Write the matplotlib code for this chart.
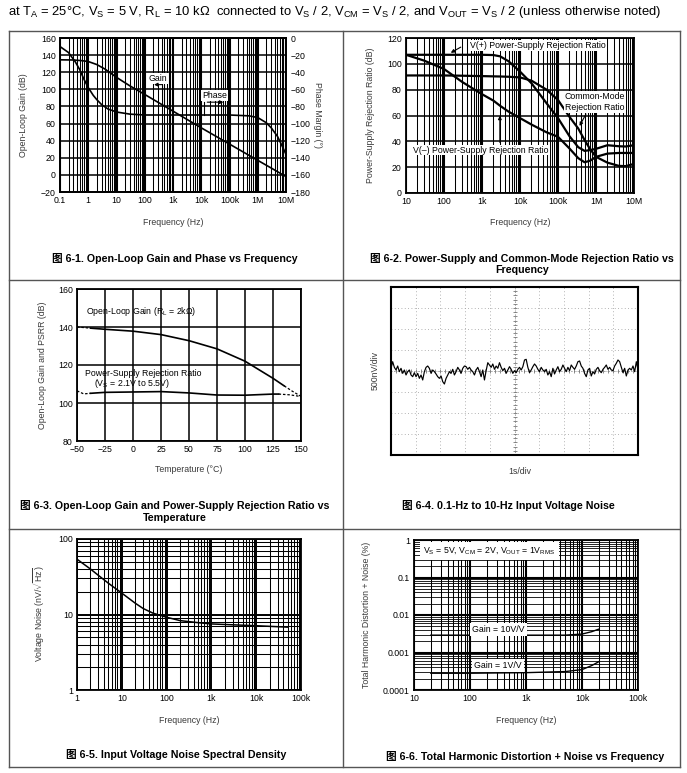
import numpy as np
import matplotlib
matplotlib.use("Agg")
import matplotlib.pyplot as plt
from matplotlib.lines import Line2D
from matplotlib.ticker import FixedLocator, LogLocator, NullFormatter

plt.rcParams['font.family'] = ['Liberation Sans', 'Noto Sans CJK SC', 'DejaVu Sans']
plt.rcParams['mathtext.fontset'] = 'custom'
plt.rcParams['mathtext.rm'] = 'Liberation Sans'
plt.rcParams['mathtext.it'] = 'Liberation Sans:italic'
plt.rcParams['mathtext.bf'] = 'Liberation Sans:bold'

# ---- 6-1 open-loop gain / phase
olg_freq = [0.1, 0.3, 0.6, 1, 2, 4, 10, 30, 100, 1e3, 1e4, 1e5, 1e6, 3e6, 1e7]
olg_gain = [134.5, 134.3, 133.5, 132.5, 129, 123.5, 114, 104, 94, 74.5, 55, 36, 17, 8, -2]
ph_freq = [0.1, 0.2, 0.35, 0.5, 0.7, 1, 1.5, 2, 3, 5, 10, 30, 100, 1e3, 1e4, 1e5, 5e5, 1e6, 2e6, 3e6, 5e6, 7e6, 1e7]
ph_deg = [-10, -17, -28, -37, -48, -58, -67, -72, -78, -83, -86.5, -89, -90, -90, -90, -90, -91, -93, -99, -105, -115, -125, -136]

# ---- 6-2 PSRR / CMRR
rr_freq = [10, 30, 100, 300, 1e3, 2e3, 3e3, 5e3, 1e4, 2e4, 5e4, 1e5, 2e5, 3.4e5, 5e5, 7e5, 1e6, 2e6, 4e6, 6e6, 1e7]
psrr_pos = [107, 107, 107, 107, 107, 106.8, 105.8, 102, 94, 85, 69.5, 58, 44, 35.5, 32.6, 33.2, 34.2, 37, 36.2, 36, 37]
psrr_neg = [107, 102.5, 96, 86, 76.5, 71.5, 67.5, 63, 58, 53, 47, 43.5, 34.5, 27, 23.8, 25, 28, 30.5, 31, 31, 31]
cmrr = [91, 91, 91, 90.8, 90.5, 90.3, 90.2, 90, 89.5, 87, 80, 72, 59, 50, 41, 34, 28, 23.5, 21, 20.8, 22.5]

# ---- 6-3 vs temperature (solid and dashed pieces)
olg_t_dash_l = [-50, -38]
olg_v_dash_l = [140, 139.4]
olg_t = [-38, -25, 0, 25, 50, 75, 100, 125, 135]
olg_v = [139.4, 138.8, 137.8, 136, 132.8, 128.5, 122, 113, 109]
olg_t_dash_r = [135, 142, 150]
olg_v_dash_r = [109, 106.3, 103.5]
psr_t_dash_l = [-50, -44, -38]
psr_v_dash_l = [106.4, 104.8, 105.1]
psr_t = [-38, -25, 0, 25, 50, 75, 100, 125, 130]
psr_v = [105.1, 105.6, 105.8, 106, 105.3, 104.2, 104.1, 104.7, 104.7]
psr_t_dash_r = [130, 140, 150]
psr_v_dash_r = [104.7, 104.3, 103.4]

# ---- 6-4 0.1-Hz to 10-Hz noise trace (nV), read across 10 s
noise_nv = [64, 222, 87, 24, 119, -16, 64, -56, 24, -95, -16, 24, -95, -135, -40, -135,
            -56, -175, -95, -214, -16, 87, 119, 64, -56, 24, -16, -71, -135, -175, -119,
            -254, -310, -175, -95, -16, -56, 40, -95, -16, 87, 24, -56, 64, 119, 103, 40,
            87, 24, -16, -95, 24, 87, -16, -135, 24, -214, 8, 198, 143, 87, 167, 40, 119,
            64, 198, 87, 8, 64, -56, 24, 103, 40, -56, 8, -40, 40, 87, 24, 103, 262, 278,
            87, -40, 24, 103, 167, 119, 40, -16, 87, 24, -16, 40, -95, -16, -135, 64, -71,
            24, 103, -16, 40, 143, 64, -16, 87, 8, 143, 87, 40, 119, 222, 238, 119, 64, -56,
            -135, 24, 64, -119, -16, -71, 40, 87, 8, -40, 40, 87, 143, 40, 87, 24, 8, 119,
            183, 262, 222, 87, -40, 64, -119, 24, 64, 24, 119, -16, 222, 24]

# ---- 6-5 noise density
vn_freq = [1, 2, 3, 5, 10, 20, 30, 50, 100, 200, 500, 1e3, 3e3, 1e4, 5e4]
vn_density = [54, 40, 33, 26, 19.2, 14.1, 12, 10.4, 9.2, 8.3, 7.8, 7.5, 7.3, 7.1, 6.8]

# ---- 6-6 THD+N
thd_freq = [20, 100, 1e3, 5e3, 1e4, 1.5e4, 2e4]
thd_g10 = [0.0029, 0.0029, 0.0029, 0.0029, 0.0031, 0.0036, 0.0042]
thd_g1 = [0.00028, 0.00028, 0.00029, 0.00031, 0.00035, 0.00045, 0.00057]

W, H = 687, 773
fig = plt.figure(figsize=(W / 100, H / 100), dpi=100)
fig.patch.set_facecolor('white')

LAB = '#3a3a3a'
TK = 6.3


def make_ax(l, t, r, b):
    return fig.add_axes([l / W, 1 - b / H, (r - l) / W, (b - t) / H])


def fx(x):
    return x / W


def fy(y):
    return 1 - y / H


def style(ax):
    for s in ax.spines.values():
        s.set_linewidth(1.3)
        s.set_color('black')
    ax.tick_params(which='both', length=0, labelsize=TK, pad=3)
    ax.set_axisbelow(True)


def log_minor_grid(ax, axis, lw, major_lw):
    loc = LogLocator(base=10, subs=np.arange(2, 10), numticks=100)
    if axis == 'x':
        ax.xaxis.set_minor_locator(loc)
        ax.xaxis.set_minor_formatter(NullFormatter())
    else:
        ax.yaxis.set_minor_locator(loc)
        ax.yaxis.set_minor_formatter(NullFormatter())
    ax.grid(True, which='minor', axis=axis, color='black', lw=lw)
    ax.grid(True, which='major', axis=axis, color='black', lw=major_lw)


def labels(ax, xl, xpos, yl, ypos, rot=90):
    ax.set_xlabel(xl, fontsize=TK, color=LAB)
    ax.xaxis.set_label_coords(fx(xpos[0]), fy(xpos[1]), transform=fig.transFigure)
    ax.set_ylabel(yl, fontsize=TK, color=LAB, rotation=rot)
    ax.yaxis.set_label_coords(fx(ypos[0]), fy(ypos[1]), transform=fig.transFigure)


def caption(lines, x, ys):
    for txt, y in zip(lines, ys):
        fig.text(fx(x), fy(y), txt, ha='center', va='center', fontsize=7.7,
                 fontweight='bold')


# header and table frame
fig.text(fx(8), fy(12), r'at T$_\mathrm{A}$ = 25°C, V$_\mathrm{S}$ = 5 V, R$_\mathrm{L}$ = 10 k$\Omega$  connected to '
         r'V$_\mathrm{S}$ / 2, V$_\mathrm{CM}$ = V$_\mathrm{S}$ / 2, and V$_\mathrm{OUT}$ = V$_\mathrm{S}$ / 2 '
         r'(unless otherwise noted)', ha='left', va='center', fontsize=9.4)
frame = dict(color='#555555', lw=1.0)
for (x0, y0, x1, y1) in [(9, 31, 680, 31), (9, 767, 680, 767), (9, 31, 9, 767), (680, 31, 680, 767),
                         (343, 31, 343, 767), (9, 280, 680, 280), (9, 529, 680, 529)]:
    fig.add_artist(Line2D([fx(x0), fx(x1)], [fy(y0), fy(y1)], **frame))

wb = dict(fc='white', ec='none', pad=0.6)
arrow = dict(arrowstyle='-|>', color='black', lw=0.8, mutation_scale=5)

# ================= 6-1
ax = make_ax(60, 38, 286, 192)
style(ax)
ax.set_xscale('log')
ax.set_xlim(0.1, 1e7)
ax.set_ylim(-20, 160)
ax.yaxis.set_major_locator(FixedLocator(np.arange(-20, 161, 20)))
ax.xaxis.set_major_locator(FixedLocator([0.1, 1, 10, 100, 1e3, 1e4, 1e5, 1e6, 1e7]))
ax.set_xticklabels(['0.1', '1', '10', '100', '1k', '10k', '100k', '1M', '10M'])
log_minor_grid(ax, 'x', 0.75, 1.5)
ax.grid(True, which='major', axis='y', color='black', lw=1.1)
ax.plot(olg_freq, olg_gain, color='black', lw=1.2)
axr = ax.twinx()
axr.set_ylim(-180, 0)
axr.yaxis.set_major_locator(FixedLocator(np.arange(-180, 1, 20)))
axr.tick_params(length=0, labelsize=TK, pad=3)
axr.plot(ph_freq, ph_deg, color='black', lw=1.2)
for s in axr.spines.values():
    s.set_linewidth(1.3)
labels(ax, 'Frequency (Hz)', (173, 218), 'Open-Loop Gain (dB)', (28, 115))
axr.set_ylabel('Phase Margin (°)', fontsize=TK, color=LAB, rotation=270)
axr.yaxis.set_label_coords(fx(322), fy(115), transform=fig.transFigure)
ax.text(290, 113, 'Gain', fontsize=TK, ha='center', va='center', bbox=wb)
ax.annotate('', xy=(170, 105.5), xytext=(500, 105.5), arrowprops=arrow)
ax.plot([500, 500], [105.5, 80], color='black', lw=0.8)
ax.text(30000, 93, 'Phase', fontsize=TK, ha='center', va='center', bbox=wb)
ax.annotate('', xy=(76000, 85), xytext=(13000, 85), arrowprops=arrow)
ax.plot([13000, 13000], [85, 70], color='black', lw=0.8)
caption(['图 6-1. Open-Loop Gain and Phase vs Frequency'], 175, [258])

# ================= 6-2
ax = make_ax(406, 38, 634, 193)
style(ax)
ax.set_xscale('log')
ax.set_xlim(10, 1e7)
ax.set_ylim(0, 120)
ax.yaxis.set_major_locator(FixedLocator(np.arange(0, 121, 20)))
ax.xaxis.set_major_locator(FixedLocator([10, 100, 1e3, 1e4, 1e5, 1e6, 1e7]))
ax.set_xticklabels(['10', '100', '1k', '10k', '100k', '1M', '10M'])
log_minor_grid(ax, 'x', 0.75, 1.5)
ax.grid(True, which='major', axis='y', color='black', lw=1.1)
for ser in (psrr_pos, psrr_neg, cmrr):
    ax.plot(rr_freq, ser, color='black', lw=1.6)
labels(ax, 'Frequency (Hz)', (520, 218), 'Power-Supply Rejection Ratio (dB)', (375, 115))
ax.text(480, 114, 'V(+) Power-Supply Rejection Ratio', fontsize=TK, ha='left', va='center', bbox=wb)
ax.annotate('', xy=(130, 107.5), xytext=(320, 114), arrowprops=arrow)
ax.text(920000, 70.7, 'Common-Mode\nRejection Ratio', fontsize=TK, ha='center', va='center',
        linespacing=1.3, bbox=wb)
ax.annotate('', xy=(340000, 50), xytext=(590000, 63), arrowprops=arrow)
ax.text(15.6, 33.2, 'V(–) Power-Supply Rejection Ratio', fontsize=TK, ha='left', va='center', bbox=wb)
ax.annotate('', xy=(2950, 62), xytext=(2950, 37), arrowprops=arrow)
caption(['图 6-2. Power-Supply and Common-Mode Rejection Ratio vs', 'Frequency'], 522, [258, 270])

# ================= 6-3
ax = make_ax(77, 289, 301, 441)
style(ax)
ax.set_xlim(-50, 150)
ax.set_ylim(80, 160)
ax.xaxis.set_major_locator(FixedLocator(np.arange(-50, 151, 25)))
ax.yaxis.set_major_locator(FixedLocator(np.arange(80, 161, 20)))
ax.grid(True, color='black', lw=1.1)
ax.plot(olg_t, olg_v, color='black', lw=1.2)
ax.plot(psr_t, psr_v, color='black', lw=1.2)
for t, v in [(olg_t_dash_l, olg_v_dash_l), (olg_t_dash_r, olg_v_dash_r),
             (psr_t_dash_l, psr_v_dash_l), (psr_t_dash_r, psr_v_dash_r)]:
    ax.plot(t, v, color='black', lw=0.9, ls=(0, (2, 1.5)))
labels(ax, 'Temperature (°C)', (189, 465), 'Open-Loop Gain and PSRR (dB)', (47, 365))
ax.text(-42, 148, r'Open-Loop Gain (R$_\mathrm{L}$ = 2k$\Omega$)', fontsize=TK, ha='left', va='center')
ax.text(-42.5, 115.7, 'Power-Supply Rejection Ratio', fontsize=TK, ha='left', va='center')
ax.text(-1, 110.2, r'(V$_\mathrm{S}$ = 2.1V to 5.5V)', fontsize=TK, ha='center', va='center')
caption(['图 6-3. Open-Loop Gain and Power-Supply Rejection Ratio vs', 'Temperature'], 175, [506, 518])

# ================= 6-4
ax = make_ax(391, 287, 638, 455)
for s in ax.spines.values():
    s.set_linewidth(1.5)
ax.set_xlim(0, 10)
ax.set_ylim(-2000, 2000)
ax.set_xticks(np.arange(0, 11, 1))
ax.set_yticks(np.arange(-2000, 2001, 500))
ax.tick_params(length=0, labelbottom=False, labelleft=False)
ax.grid(True, color='#9a9a9a', lw=0.6, ls=(0, (1, 3)))
ax.axhline(0, color='#888888', lw=0.6, ls=(0, (1, 2)))
ax.axvline(5, color='#888888', lw=0.6, ls=(0, (1, 2)))
ax.plot(np.full(41, 5), np.arange(-2000, 2001, 100), ls='none', marker='_', ms=3, color='#777777', mew=0.6)
ax.plot(np.arange(0, 10.01, 0.2), np.zeros(51), ls='none', marker='|', ms=3, color='#777777', mew=0.6)
ax.plot(np.linspace(0, 10, len(noise_nv)), noise_nv, color='black', lw=0.85)
labels(ax, '1s/div', (520, 467), '500nV/div', (380, 371))
caption(['图 6-4. 0.1-Hz to 10-Hz Input Voltage Noise'], 508, [506])

# ================= 6-5
ax = make_ax(77, 539, 301, 690)
style(ax)
ax.set_xscale('log')
ax.set_yscale('log')
ax.set_xlim(1, 1e5)
ax.set_ylim(1, 100)
ax.xaxis.set_major_locator(FixedLocator([1, 10, 100, 1e3, 1e4, 1e5]))
ax.set_xticklabels(['1', '10', '100', '1k', '10k', '100k'])
ax.yaxis.set_major_locator(FixedLocator([1, 10, 100]))
ax.set_yticklabels(['1', '10', '100'])
log_minor_grid(ax, 'x', 0.75, 1.4)
log_minor_grid(ax, 'y', 0.75, 1.4)
ax.plot(vn_freq, vn_density, color='black', lw=1.1)
labels(ax, 'Frequency (Hz)', (189, 716), r'Voltage Noise (nV/$\sqrt{\mathrm{Hz}}$)', (47, 614))
caption(['图 6-5. Input Voltage Noise Spectral Density'], 176, [755])

# ================= 6-6
ax = make_ax(414, 540, 638, 690)
style(ax)
ax.set_xscale('log')
ax.set_yscale('log')
ax.set_xlim(10, 1e5)
ax.set_ylim(1e-4, 1)
ax.xaxis.set_major_locator(FixedLocator([10, 100, 1e3, 1e4, 1e5]))
ax.set_xticklabels(['10', '100', '1k', '10k', '100k'])
ax.yaxis.set_major_locator(FixedLocator([1e-4, 1e-3, 1e-2, 1e-1, 1]))
ax.set_yticklabels(['0.0001', '0.001', '0.01', '0.1', '1'])
log_minor_grid(ax, 'x', 0.75, 1.5)
log_minor_grid(ax, 'y', 0.6, 1.5)
ax.plot(thd_freq, thd_g10, color='black', lw=1.0)
ax.plot(thd_freq, thd_g1, color='black', lw=1.0)
labels(ax, 'Frequency (Hz)', (526, 716), 'Total Harmonic Distortion + Noise (%)', (371, 615))
ax.text(224, 0.52, r'V$_\mathrm{S}$ = 5V, V$_\mathrm{CM}$ = 2V, V$_\mathrm{OUT}$ = 1V$_\mathrm{RMS}$',
        fontsize=TK, ha='center', va='center', bbox=dict(fc='white', ec='none', pad=2.5))
ax.text(325, 0.0042, 'Gain = 10V/V', fontsize=TK, ha='center', va='center', bbox=dict(fc='white', ec='none', pad=1.5))
ax.text(316, 0.00044, 'Gain = 1V/V', fontsize=TK, ha='center', va='center', bbox=dict(fc='white', ec='none', pad=1.5))
caption(['图 6-6. Total Harmonic Distortion + Noise vs Frequency'], 525, [756])

fig.savefig('out.png', dpi=100)
